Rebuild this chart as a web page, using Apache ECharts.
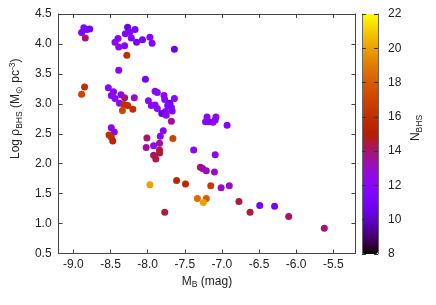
<!DOCTYPE html>
<html><head><meta charset="utf-8">
<script src="https://cdn.jsdelivr.net/npm/echarts@6/dist/echarts.min.js"></script>
<style>html,body{margin:0;padding:0;background:#fff}#c{width:436px;height:305px}</style>
</head><body><div id="c"></div>
<script>
// Data
const magB = [-8.89,-8.86,-8.82,-8.78,-8.84,
 -8.27,-8.17,-8.30,-8.24,-8.22,-8.15,-8.40,-8.44,-8.39,-8.31,-8.07,-7.97,-7.94,-7.64,-8.28,-8.39,-8.03,
 -8.85,-8.89,
 -8.53,-8.46,-8.49,-8.44,-8.36,-8.31,-8.18,-8.38,-8.32,-8.27,-8.34,-8.20,
 -7.99,-7.90,-7.87,-7.78,-7.95,-7.90,-7.87,-7.77,-7.70,-7.64,-7.73,-7.68,-7.76,-7.81,-7.75,-7.67,-7.68,
 -8.49,-8.45,-8.52,-8.49,-8.47,
 -7.79,-7.83,-8.01,-7.66,-7.84,-7.92,-8.02,-7.84,-7.84,-7.92,-7.89,
 -7.20,-7.08,-7.22,-7.18,-7.12,-7.09,-6.93,-7.38,-7.09,-7.29,-7.26,-7.21,-7.10,-7.97,-7.61,-7.49,-7.15,-7.01,-6.90,-7.33,-7.21,-7.25,-6.77,-6.62,-6.49,-6.29,-6.10,-5.62,-7.77];
const logRho = [4.19,4.27,4.24,4.25,4.10,
 4.28,4.24,4.17,4.20,4.10,4.03,4.09,4.03,3.95,3.97,4.07,4.11,4.01,3.91,3.81,3.56,3.41,
 3.28,3.16,
 3.27,3.20,3.14,3.09,3.15,3.10,3.10,3.01,2.99,2.97,2.89,2.91,
 3.05,3.21,3.19,3.14,2.97,2.98,2.92,3.07,3.01,3.09,2.97,2.94,2.87,2.84,2.81,2.88,2.71,
 2.60,2.53,2.48,2.44,2.38,
 2.55,2.46,2.43,2.42,2.34,2.30,2.27,2.23,2.18,2.14,2.08,
 2.78,2.78,2.70,2.70,2.69,2.73,2.64,2.23,2.15,1.94,1.92,1.88,1.86,1.65,1.72,1.66,1.63,1.60,1.63,1.42,1.42,1.35,1.37,1.19,1.30,1.29,1.12,0.92,1.19];
const nBHS = [11.5,11.5,11.5,11,14,
 10.5,11,11.5,11.5,11.5,11,12,12,12,12,11,11.5,11.5,10.5,16,12,11,
 16,17,
 12,12,12,12,12,14,13,12,16,16,17,16,
 12,12,12,12,12,12,12,12,10.5,12,11.5,11.5,12,10.5,12,11.5,13.5,
 12,12.5,16,16,15.5,
 12,12,14,17,13.5,12.5,13.5,14.5,14.5,14,14.5,
 12,12,12,12,12,12,11.5,12,12,14,13.5,13,13,20,15.5,15.5,16.5,13,13,18.5,18,20,14.5,14.5,11,11,14,14,14.5];
const xTicks = [-9.0,-8.5,-8.0,-7.5,-7.0,-6.5,-6.0,-5.5];

// gnuplot default palette (rgbformulae 7,5,15)
const palette = [];
for (let i = 0; i <= 60; i++) {
  const t = i / 60;
  const r = Math.sqrt(t), g = t * t * t, b = Math.max(0, Math.sin(2 * Math.PI * t));
  const h = v => Math.round(Math.min(1, Math.max(0, v)) * 255).toString(16).padStart(2, '0');
  palette.push('#' + h(r) + h(g) + h(b));
}

const data = magB.map((x, i) => [x, logRho[i], nBHS[i]]);
const FONT = 'Liberation Sans';
const TXT = '#222';
const AX = '#444';
const rich = {
  n: {fontSize: 12, fontFamily: FONT, color: TXT, lineHeight: 16},
  s: {fontSize: 8.5, fontFamily: FONT, color: TXT, lineHeight: 8, verticalAlign: 'bottom'},
  p: {fontSize: 8.5, fontFamily: FONT, color: TXT, lineHeight: 8, verticalAlign: 'top'}
};
const tickIn = {show: true, inside: true, length: 4, lineStyle: {color: AX}};

const chart = echarts.init(document.getElementById('c'), null, {renderer: 'canvas'});
chart.setOption({
  animation: false,
  textStyle: {fontFamily: FONT},
  grid: [
    {left: 52.5, top: 14, width: 303, height: 239.5},
    {left: 362, top: 14, width: 16, height: 240}
  ],
  xAxis: [
    {type: 'value', gridIndex: 0, min: -9.2, max: -5.2, position: 'bottom',
     axisLine: {show: true, lineStyle: {color: AX}}, splitLine: {show: false},
     axisTick: Object.assign({customValues: xTicks}, tickIn),
     axisLabel: {customValues: xTicks, formatter: v => v.toFixed(1), fontSize: 12, color: TXT, margin: 5, fontFamily: FONT},
     name: '{n|M}{s|B}{n| (mag)}', nameLocation: 'middle', nameGap: 15,
     nameTextStyle: {rich: rich}},
    {type: 'value', gridIndex: 0, min: -9.2, max: -5.2, position: 'top',
     axisLine: {show: true, lineStyle: {color: AX}}, splitLine: {show: false},
     axisTick: Object.assign({customValues: xTicks}, tickIn),
     axisLabel: {show: false}},
    {type: 'value', gridIndex: 1, min: 0, max: 1, show: false}
  ],
  yAxis: [
    {type: 'value', gridIndex: 0, min: 0.5, max: 4.5, interval: 0.5, position: 'left',
     axisLine: {show: true, lineStyle: {color: AX}}, splitLine: {show: false},
     axisTick: tickIn,
     axisLabel: {formatter: v => v.toFixed(1), fontSize: 12, color: TXT, margin: 7, fontFamily: FONT},
     name: '{n|Log ρ}{s|BHS}{n| (M}{s|⊙}{n| pc}{p|-3}{n|)}', nameLocation: 'middle', nameGap: 27, nameRotate: 90,
     nameTextStyle: {rich: rich, padding: [0, 0, 0, 50]}},
    {type: 'value', gridIndex: 0, min: 0.5, max: 4.5, interval: 0.5, position: 'right',
     axisLine: {show: true, lineStyle: {color: AX}}, splitLine: {show: false},
     axisTick: tickIn, axisLabel: {show: false}},
    {type: 'value', gridIndex: 1, min: 8, max: 22, interval: 2, position: 'left', z: 10,
     axisLine: {show: true, lineStyle: {color: '#666'}}, splitLine: {show: false},
     axisTick: {show: true, inside: true, length: 4, lineStyle: {color: '#333'}}, axisLabel: {show: false}},
    {type: 'value', gridIndex: 1, min: 8, max: 22, interval: 2, position: 'right', z: 10,
     axisLine: {show: true, lineStyle: {color: '#666'}}, splitLine: {show: false},
     axisTick: {show: true, inside: true, length: 4, lineStyle: {color: '#333'}},
     axisLabel: {fontSize: 12, color: TXT, margin: 10, fontFamily: FONT},
     name: '{n|N}{s|BHS}', nameLocation: 'middle', nameGap: 30, nameRotate: 90,
     nameTextStyle: {rich: rich, padding: [0, 0, 0, 12]}}
  ],
  visualMap: {
    type: 'continuous', min: 8, max: 22, dimension: 2, seriesIndex: 0,
    calculable: false, left: 362, top: 14, itemWidth: 16, itemHeight: 240, padding: 0,
    text: null, inRange: {color: palette}, orient: 'vertical', hoverLink: false
  },
  series: [{
    type: 'scatter', xAxisIndex: 0, yAxisIndex: 0, symbolSize: 7,
    data: data, itemStyle: {opacity: 1}
  }]
});
</script></body></html>
